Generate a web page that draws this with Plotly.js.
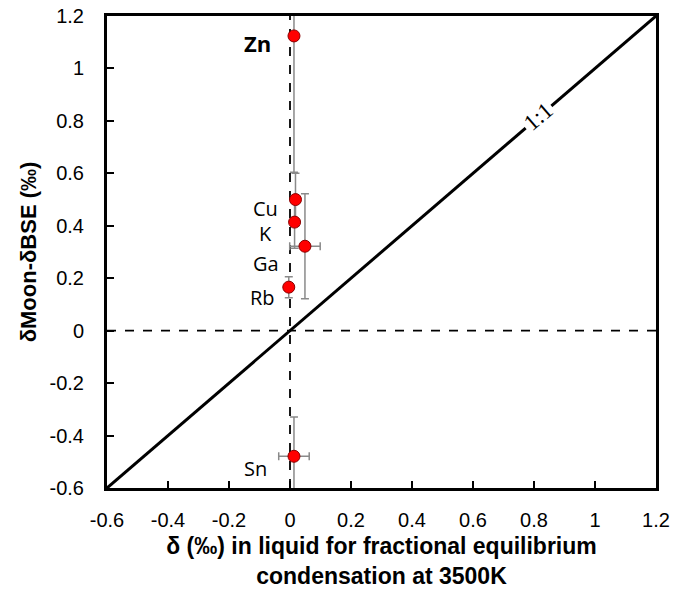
<!DOCTYPE html>
<html>
<head>
<meta charset="utf-8">
<script src="https://cdn.plot.ly/plotly-3.0.1.min.js"></script>
<style>html,body{margin:0;padding:0;background:#fff;}#chart{width:688px;height:599px;}</style>
</head>
<body>
<div id="chart"></div>
<script>
// Data
const elements = ["Zn", "Cu", "K", "Ga", "Rb", "Sn"];
const deltaLiquid = [0.013, 0.018, 0.015, 0.049, -0.004, 0.013];
const deltaMoonBSE = [1.124, 0.50, 0.414, 0.322, 0.166, -0.479];
const errX = [0, 0, 0, 0.05, 0, 0.05];
const errY = [0.52, 0.10, 0.10, 0.20, 0.04, 0.15];
const boldLabel = [true, false, false, false, false, false];
const axisRange = [-0.6, 1.2];
const tickValues = [-0.6, -0.4, -0.2, 0, 0.2, 0.4, 0.6, 0.8, 1, 1.2];
const tickLabels = ["-0.6", "-0.4", "-0.2", "0", "0.2", "0.4", "0.6", "0.8", "1", "1.2"];
const oneToOneLabel = "1:1";
const oneToOneLabelAt = 0.815;

// label offsets (pixels) relative to each point
const labelShiftX = [-22, -16, -22, -25, -13, -26];
const labelShiftY = [-7, -9, -11, -17, -10, -12];

const traces = [
  { x: axisRange, y: axisRange, mode: "lines", line: {color: "#000", width: 3}, hoverinfo: "skip", showlegend: false },
  { x: [0, 0], y: axisRange, mode: "lines", line: {color: "#000", width: 1.8, dash: "dash"}, hoverinfo: "skip", showlegend: false },
  { x: axisRange, y: [0, 0], mode: "lines", line: {color: "#000", width: 1.8, dash: "dash"}, hoverinfo: "skip", showlegend: false },
  {
    x: deltaLiquid, y: deltaMoonBSE, text: elements, mode: "markers", showlegend: false,
    marker: {size: 12, color: "#ff0000", line: {color: "#8b0000", width: 1}},
    error_y: {type: "data", array: errY, visible: true, color: "#8a8a8a", thickness: 1.5, width: 4},
    error_x: {type: "data", array: errX, visible: true, color: "#8a8a8a", thickness: 1.5, width: 4}
  }
];

const annotations = elements.map((el, i) => ({
  x: deltaLiquid[i], y: deltaMoonBSE[i], xref: "x", yref: "y",
  text: boldLabel[i] ? "<b>" + el + "</b>" : el,
  showarrow: false, xanchor: "right", yanchor: "middle",
  xshift: labelShiftX[i], yshift: labelShiftY[i], borderpad: 0,
  font: {family: "Open Sans, sans-serif", size: boldLabel[i] ? 22 : 20, color: "#000"}
}));
annotations.push({
  x: oneToOneLabelAt, y: oneToOneLabelAt, xref: "x", yref: "y",
  text: oneToOneLabel, showarrow: false, textangle: -40.7,
  bgcolor: "#fff", borderpad: 2,
  font: {family: "Liberation Serif, serif", size: 23, color: "#000"}
});

const axisCommon = {
  range: axisRange, tickvals: tickValues, ticktext: tickLabels,
  showline: true, mirror: true, linecolor: "#000", linewidth: 3,
  ticks: "inside", ticklen: 7, tickwidth: 2, tickcolor: "#000",
  showgrid: false, zeroline: false,
  tickfont: {family: "Liberation Sans, Arial, sans-serif", size: 20, color: "#000"}
};

const layout = {
  width: 688, height: 599,
  margin: {l: 107, r: 32, t: 16, b: 111},
  paper_bgcolor: "#fff", plot_bgcolor: "#fff",
  xaxis: Object.assign({}, axisCommon, {
    ticklabelstandoff: 12,
    title: {text: "<b>δ (‰) in liquid for fractional equilibrium<br>condensation at 3500K</b>", standoff: 8,
      font: {family: "Liberation Sans, Arial, sans-serif", size: 23, color: "#000"}}
  }),
  yaxis: Object.assign({}, axisCommon, {
    ticklabelstandoff: 16,
    title: {text: "<b>δMoon-δBSE (‰)</b>", standoff: 7,
      font: {family: "Liberation Sans, Arial, sans-serif", size: 22, color: "#000"}}
  }),
  annotations: annotations
};

Plotly.newPlot("chart", traces, layout, {staticPlot: true, displayModeBar: false});
</script>
</body>
</html>
